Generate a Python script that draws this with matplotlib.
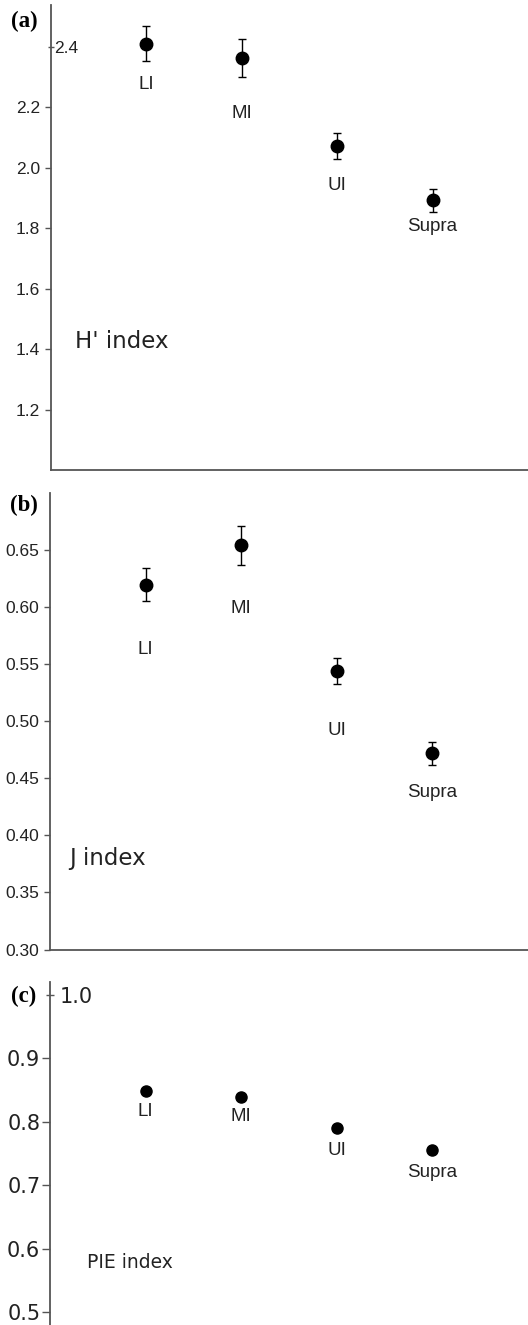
import matplotlib
matplotlib.use("Agg")
import matplotlib.pyplot as plt

sites = ["LI", "MI", "UI", "Supra"]
xpos = [1, 2, 3, 4]

# Panel (a): H' index
h_mean = [2.41, 2.362, 2.071, 1.892]
h_err = [0.058, 0.063, 0.042, 0.039]
h_lab_y = [2.275, 2.178, 1.942, 1.804]
h_ticks = [1.2, 1.4, 1.6, 1.8, 2.0, 2.2, 2.4]

# Panel (b): J index
j_mean = [0.6195, 0.654, 0.544, 0.472]
j_err = [0.0145, 0.017, 0.011, 0.010]
j_lab_y = [0.563, 0.5985, 0.4915, 0.4377]
j_ticks = [0.30, 0.35, 0.40, 0.45, 0.50, 0.55, 0.60, 0.65]

# Panel (c): PIE index
p_mean = [0.848, 0.839, 0.7905, 0.755]
p_lab_y = [0.8167, 0.808, 0.755, 0.721]
p_ticks = [0.5, 0.6, 0.7, 0.8, 0.9, 1.0]

W, H = 528, 1325
fig = plt.figure(figsize=(W / 100, H / 100), dpi=100)

SP = "#555555"
TXT = "#222222"
ARIAL = "Liberation Sans"
VERD = "DejaVu Sans"


def px(l, t, r, b):
    return [l / W, 1 - b / H, (r - l) / W, (b - t) / H]


def style(ax, bottom=True, tlen=4.3, pad=3.5):
    for s in ["top", "right"]:
        ax.spines[s].set_visible(False)
    ax.spines["bottom"].set_visible(bottom)
    for s in ["left", "bottom"]:
        ax.spines[s].set_color(SP)
        ax.spines[s].set_linewidth(1.3)
    ax.set_xticks([])
    ax.set_xlim(0, 5)
    ax.tick_params(axis="y", direction="out", length=tlen, width=1, color=SP, pad=pad)


def top_tick_inside(ax, pad, msize, fs, fam):
    t = ax.yaxis.get_major_ticks()[-1]
    t.set_pad(pad)
    t.tick1line.set_marker("_")
    t.tick1line.set_markersize(msize)
    t.tick1line.set_markeredgewidth(1)
    t.tick1line.set_color(SP)
    t.label1.set_horizontalalignment("left")
    t.label1.set_fontsize(fs)
    t.label1.set_fontfamily(fam)
    t.label1.set_color(TXT)


# ---- (a)
ax1 = fig.add_axes(px(51, 5, 528, 470))
style(ax1)
ax1.set_ylim(1.0, 2.538)
ax1.set_yticks(h_ticks)
ax1.set_yticklabels(["1.2", "1.4", "1.6", "1.8", "2.0", "2.2", "2.4"],
                    fontsize=12.5, fontfamily=ARIAL, color=TXT)
ax1.errorbar(xpos, h_mean, yerr=h_err, fmt="o", color="black", ms=9,
             elinewidth=1, capsize=2.6, capthick=1)
for x, y, s in zip(xpos, h_lab_y, sites):
    ax1.text(x, y, s, ha="center", va="center", fontsize=13.5, fontfamily=ARIAL, color=TXT)
ax1.text(0.25, 1.424, "H' index", ha="left", va="center", fontsize=16.5, fontfamily=VERD, color=TXT)
fig.text(11 / W, 1 - 21 / H, "(a)", fontsize=16.5, fontweight="bold", fontfamily="Liberation Serif",
         ha="left", va="center")

# ---- (b)
ax2 = fig.add_axes(px(50, 493, 528, 949.5))
style(ax2)
ax2.set_ylim(0.30, 0.70)
ax2.set_yticks(j_ticks)
ax2.set_yticklabels(["0.30", "0.35", "0.40", "0.45", "0.50", "0.55", "0.60", "0.65"],
                    fontsize=12.5, fontfamily=ARIAL, color=TXT)
ax2.errorbar(xpos, j_mean, yerr=j_err, fmt="o", color="black", ms=9,
             elinewidth=1, capsize=2.6, capthick=1)
for x, y, s in zip(xpos, j_lab_y, sites):
    ax2.text(x, y, s, ha="center", va="center", fontsize=13.5, fontfamily=ARIAL, color=TXT)
ax2.text(0.2, 0.380, "J index", ha="left", va="center", fontsize=16.5, fontfamily=VERD, color=TXT)
fig.text(10 / W, 1 - 505.7 / H, "(b)", fontsize=16.5, fontweight="bold", fontfamily="Liberation Serif",
         ha="left", va="center")

# ---- (c)
ax3 = fig.add_axes(px(50, 981.7, 528, 1325))
style(ax3, bottom=False, tlen=5.5, pad=1.5)
ax3.set_ylim(0.48, 1.021)
ax3.set_yticks(p_ticks)
ax3.set_yticklabels(["0.5", "0.6", "0.7", "0.8", "0.9", "1.0"],
                    fontsize=15, fontfamily=VERD, color=TXT)
ax3.plot(xpos, p_mean, "o", color="black", ms=8)
for x, y, s in zip(xpos, p_lab_y, sites):
    ax3.text(x, y, s, ha="center", va="center", fontsize=13.5, fontfamily=ARIAL, color=TXT)
ax3.text(0.39, 0.578, "PIE index", ha="left", va="center", fontsize=13.5, fontfamily=VERD, color=TXT)
fig.text(11 / W, 1 - 996.7 / H, "(c)", fontsize=16.5, fontweight="bold", fontfamily="Liberation Serif",
         ha="left", va="center")

top_tick_inside(ax1, -6.7, 4.5, 12.5, ARIAL)
top_tick_inside(ax3, -12.5, 5.5, 15, VERD)

fig.savefig("out.png", dpi=100)
